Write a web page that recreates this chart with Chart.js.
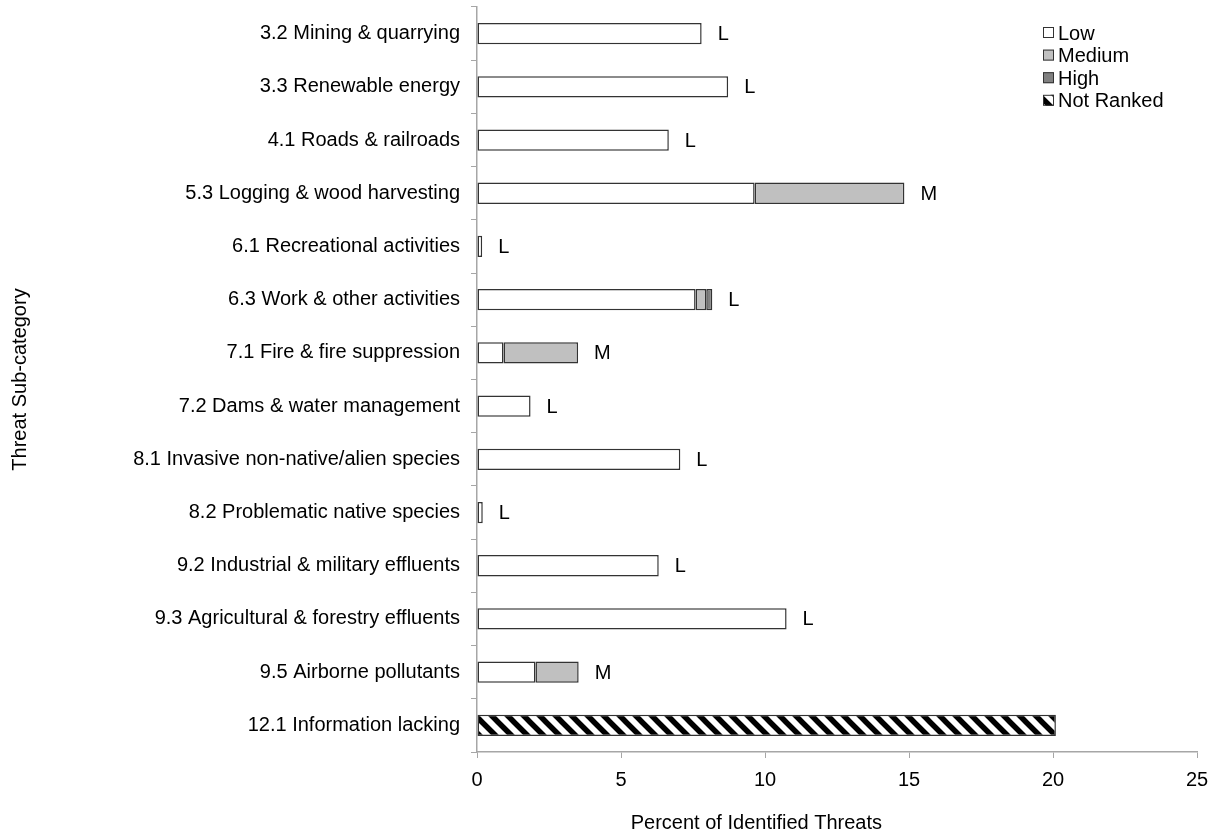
<!DOCTYPE html>
<html>
<head>
<meta charset="utf-8">
<script src="https://cdn.jsdelivr.net/npm/chart.js@4/dist/chart.umd.min.js"></script>
<style>
  html, body { margin: 0; padding: 0; background: #fff; }
</style>
</head>
<body>
<canvas id="threatChart" width="1213" height="835"></canvas>
<script>
// categories, top to bottom
const CATEGORIES = [
  "3.2 Mining & quarrying",
  "3.3 Renewable energy",
  "4.1 Roads & railroads",
  "5.3 Logging & wood harvesting",
  "6.1 Recreational activities",
  "6.3 Work & other activities",
  "7.1 Fire & fire suppression",
  "7.2 Dams & water management",
  "8.1 Invasive non-native/alien species",
  "8.2 Problematic native species",
  "9.2 Industrial & military effluents",
  "9.3 Agricultural & forestry effluents",
  "9.5 Airborne pollutants",
  "12.1 Information lacking",
]

// percent of identified threats by impact
const LOW = [7.8, 8.72, 6.66, 9.64, 0.18, 7.59, 0.92, 1.86, 7.06, 0.2, 6.31, 10.75, 2.03, null]
const MEDIUM = [null, null, null, 5.2, null, 0.37, 2.59, null, null, null, null, null, 1.5, null]
const HIGH = [null, null, null, null, null, 0.21, null, null, null, null, null, null, null, null]
const NOT_RANKED = [null, null, null, null, null, null, null, null, null, null, null, null, null, 20.1]

// overall rank written after each bar
const RANKS = ["L", "L", "L", "M", "L", "L", "M", "L", "L", "L", "L", "L", "M", ""]

const FONT = "'Liberation Sans', Arial, sans-serif"


// diagonal hatch for "Not Ranked"
function hatch() {
  const size = 16
  const c = document.createElement("canvas")
  c.width = size
  c.height = size
  const g = c.getContext("2d")

  g.fillStyle = "#fff"
  g.fillRect(0, 0, size, size)
  g.strokeStyle = "#000"
  g.lineWidth = 5.5

  // "\" stripes, plus the corner pieces so tiles join up
  g.beginPath()
  g.moveTo(-2, -2)
  g.lineTo(size + 2, size + 2)
  g.moveTo(-2, size - 2)
  g.lineTo(2, size + 2)
  g.moveTo(size - 2, -2)
  g.lineTo(size + 2, 2)
  g.stroke()

  return g.createPattern(c, "repeat")
}


// one stacked series
function series(label, data, fill) {
  return {
    label: label,
    data: data,
    backgroundColor: fill,
    borderColor: "#333333",
    borderWidth: 1.5,
    borderSkipped: false,
    barPercentage: 0.4,
    categoryPercentage: 1,
  }
}


// L / M marks, axis titles and legend
const extras = {
  id: "extras",
  afterDraw(chart) {
    const ctx = chart.ctx
    const area = chart.chartArea
    const x = chart.scales.x
    const y = chart.scales.y

    ctx.save()
    ctx.fillStyle = "#000"
    ctx.textBaseline = "middle"

    // rank letters after the bars
    ctx.font = "20px " + FONT
    ctx.textAlign = "left"
    CATEGORIES.forEach(function (name, i) {
      if (!RANKS[i]) return
      const total = (LOW[i] || 0) + (MEDIUM[i] || 0) + (HIGH[i] || 0)
      ctx.fillText(RANKS[i], x.getPixelForValue(total) + 16, y.getPixelForValue(i) + 1)
    })

    // axis titles
    ctx.font = "20px " + FONT
    ctx.textAlign = "center"
    ctx.fillText("Percent of Identified Threats", x.getPixelForValue(9.7), chart.height - 12)

    ctx.save()
    ctx.translate(20, (area.top + area.bottom) / 2)
    ctx.rotate(-Math.PI / 2)
    ctx.fillText("Threat Sub-category", 0, 0)
    ctx.restore()

    // legend in the top right corner
    ctx.font = "20px " + FONT
    ctx.textAlign = "left"
    chart.data.datasets.forEach(function (ds, i) {
      const top = area.top + 26 + i * 22.6
      const left = area.right - 154
      ctx.fillStyle = ds.backgroundColor
      ctx.fillRect(left, top - 6, 11, 11)
      ctx.strokeStyle = "#333333"
      ctx.lineWidth = 1
      ctx.strokeRect(left + 0.5, top - 5.5, 10, 10)
      ctx.fillStyle = "#000"
      ctx.fillText(ds.label, left + 15, top + 1)
    })

    ctx.restore()
  },
}


// build the chart
new Chart(document.getElementById("threatChart"), {
  type: "bar",
  data: {
    labels: CATEGORIES,
    datasets: [
      series("Low", LOW, "#ffffff"),
      series("Medium", MEDIUM, "#c0c0c0"),
      series("High", HIGH, "#808080"),
      series("Not Ranked", NOT_RANKED, hatch()),
    ],
  },
  options: {
    indexAxis: "y",
    responsive: false,
    devicePixelRatio: 1,
    animation: false,
    layout: { padding: { top: 7, right: 16, left: 0, bottom: 0 } },
    plugins: {
      legend: { display: false },
      tooltip: { enabled: false },
    },
    scales: {
      x: {
        stacked: true,
        min: 0,
        max: 25,
        ticks: { stepSize: 5, color: "#000", font: { family: FONT, size: 20 }, padding: 10 },
        grid: { drawOnChartArea: false, tickLength: 6, color: "#a6a6a6" },
        border: { color: "#a6a6a6", width: 1.5 },
        afterFit(scale) {
          scale.height = 83
          scale.paddingLeft = 0
          scale.paddingRight = 0
        },
      },
      y: {
        stacked: true,
        ticks: { color: "#000", font: { family: FONT, size: 20 }, padding: 11 },
        grid: { drawOnChartArea: false, tickLength: 6, color: "#a6a6a6", offset: true },
        border: { color: "#a6a6a6", width: 1.5 },
        afterFit(scale) {
          scale.width = 477
          scale.paddingTop = 0
          scale.paddingBottom = 0
        },
      },
    },
  },
  plugins: [extras],
})
</script>
</body>
</html>
